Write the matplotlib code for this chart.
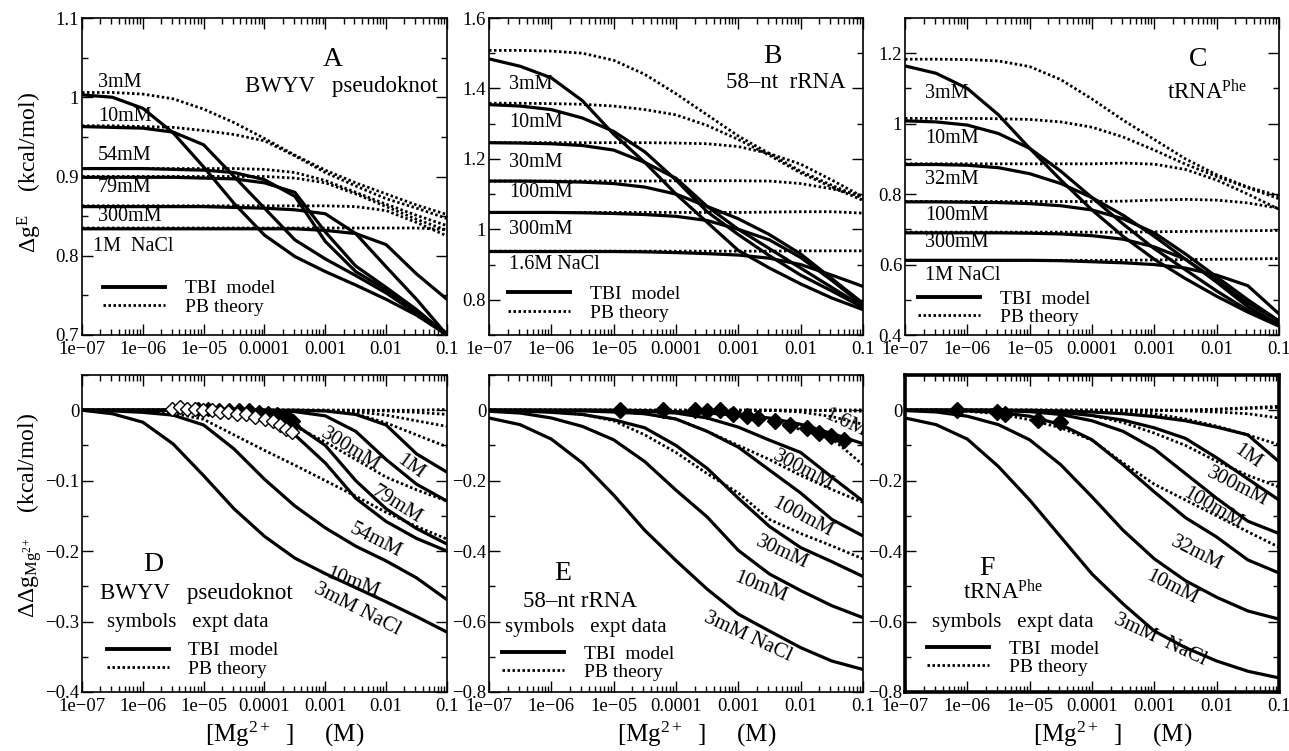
import numpy as np
import matplotlib
matplotlib.use('Agg')
import matplotlib.pyplot as plt
from matplotlib.lines import Line2D
from matplotlib.ticker import MultipleLocator, AutoMinorLocator, FuncFormatter, NullFormatter, LogLocator

plt.rcParams['font.family'] = 'Liberation Serif'
plt.rcParams['mathtext.fontset'] = 'custom'
plt.rcParams['mathtext.rm'] = 'Liberation Serif'
plt.rcParams['mathtext.it'] = 'Liberation Serif:italic'
plt.rcParams['mathtext.bf'] = 'Liberation Serif:bold'

# Mg2+ concentration grid (M), half-decade steps
mg = [1e-7, 3.16e-7, 1e-6, 3.16e-6, 1e-5, 3.16e-5, 1e-4, 3.16e-4, 1e-3, 3.16e-3, 1e-2, 3.16e-2, 1e-1]
xtick_vals = [1e-7, 1e-6, 1e-5, 1e-4, 1e-3, 1e-2, 1e-1]
xtick_labels = ['1e\u221207', '1e\u221206', '1e\u221205', '0.0001', '0.001', '0.01', '0.1']

# ---- A: BWYV pseudoknot, electrostatic free energy ----
a_salts = ['3mM', '10mM', '54mM', '79mM', '300mM', '1M  NaCl']
a_tbi = [
    [1.003, 1.0, 0.986, 0.955, 0.912, 0.866, 0.826, 0.799, 0.78, 0.763, 0.745, 0.725, 0.70],
    [0.963, 0.962, 0.961, 0.956, 0.94, 0.9, 0.86, 0.82, 0.796, 0.775, 0.753, 0.727, 0.702],
    [0.91, 0.91, 0.91, 0.909, 0.908, 0.905, 0.896, 0.875, 0.818, 0.78, 0.757, 0.73, 0.70],
    [0.899, 0.899, 0.899, 0.899, 0.898, 0.897, 0.892, 0.88, 0.83, 0.787, 0.76, 0.732, 0.70],
    [0.862, 0.862, 0.862, 0.862, 0.862, 0.861, 0.86, 0.858, 0.853, 0.828, 0.786, 0.745, 0.70],
    [0.834, 0.834, 0.834, 0.834, 0.834, 0.834, 0.834, 0.834, 0.832, 0.828, 0.814, 0.777, 0.745],
]
a_pb = [
    [1.006, 1.006, 1.004, 0.998, 0.985, 0.968, 0.948, 0.927, 0.908, 0.892, 0.878, 0.864, 0.852],
    [0.964, 0.964, 0.963, 0.962, 0.958, 0.953, 0.945, 0.926, 0.905, 0.888, 0.872, 0.86, 0.847],
    [0.91, 0.91, 0.91, 0.91, 0.91, 0.91, 0.909, 0.905, 0.895, 0.88, 0.865, 0.851, 0.838],
    [0.9, 0.9, 0.9, 0.9, 0.9, 0.9, 0.9, 0.898, 0.892, 0.878, 0.862, 0.846, 0.832],
    [0.863, 0.863, 0.863, 0.863, 0.863, 0.863, 0.863, 0.863, 0.863, 0.862, 0.857, 0.842, 0.825],
    [0.835, 0.835, 0.835, 0.835, 0.835, 0.835, 0.835, 0.835, 0.835, 0.835, 0.835, 0.835, 0.833],
]

# ---- B: 58-nt rRNA ----
b_salts = ['3mM', '10mM', '30mM', '100mM', '300mM', '1.6M NaCl']
b_tbi = [
    [1.484, 1.463, 1.43, 1.365, 1.27, 1.19, 1.1, 1.02, 0.94, 0.89, 0.845, 0.805, 0.772],
    [1.354, 1.35, 1.34, 1.316, 1.278, 1.22, 1.14, 1.05, 0.985, 0.925, 0.87, 0.825, 0.778],
    [1.246, 1.245, 1.243, 1.238, 1.225, 1.19, 1.145, 1.065, 1.0, 0.945, 0.89, 0.835, 0.78],
    [1.137, 1.137, 1.136, 1.134, 1.13, 1.12, 1.1, 1.065, 1.03, 0.985, 0.93, 0.86, 0.79],
    [1.048, 1.048, 1.048, 1.047, 1.045, 1.042, 1.037, 1.025, 1.0, 0.97, 0.92, 0.855, 0.785],
    [0.937, 0.937, 0.937, 0.937, 0.937, 0.936, 0.934, 0.931, 0.927, 0.918, 0.9, 0.87, 0.838],
]
b_pb = [
    [1.508, 1.508, 1.506, 1.5, 1.48, 1.44, 1.385, 1.325, 1.265, 1.215, 1.165, 1.125, 1.088],
    [1.358, 1.358, 1.357, 1.355, 1.35, 1.34, 1.325, 1.295, 1.255, 1.21, 1.16, 1.12, 1.082],
    [1.246, 1.246, 1.246, 1.246, 1.246, 1.246, 1.245, 1.243, 1.235, 1.215, 1.185, 1.14, 1.092],
    [1.137, 1.137, 1.137, 1.137, 1.137, 1.137, 1.138, 1.138, 1.138, 1.137, 1.13, 1.115, 1.095],
    [1.048, 1.048, 1.048, 1.048, 1.048, 1.048, 1.048, 1.048, 1.048, 1.049, 1.05, 1.05, 1.046],
    [0.938, 0.938, 0.938, 0.938, 0.938, 0.938, 0.938, 0.938, 0.938, 0.938, 0.939, 0.939, 0.939],
]

# ---- C: tRNA-Phe ----
c_salts = ['3mM', '10mM', '32mM', '100mM', '300mM', '1M NaCl']
c_tbi = [
    [1.164, 1.143, 1.10, 1.025, 0.93, 0.84, 0.755, 0.68, 0.615, 0.56, 0.51, 0.465, 0.425],
    [1.008, 1.005, 0.996, 0.972, 0.93, 0.865, 0.79, 0.715, 0.645, 0.585, 0.525, 0.47, 0.43],
    [0.884, 0.884, 0.882, 0.875, 0.858, 0.83, 0.79, 0.74, 0.68, 0.615, 0.55, 0.48, 0.43],
    [0.778, 0.778, 0.777, 0.776, 0.773, 0.767, 0.755, 0.73, 0.69, 0.63, 0.565, 0.5, 0.44],
    [0.69, 0.69, 0.69, 0.69, 0.689, 0.687, 0.682, 0.672, 0.65, 0.615, 0.555, 0.49, 0.44],
    [0.612, 0.612, 0.612, 0.612, 0.612, 0.611, 0.608, 0.605, 0.6, 0.59, 0.57, 0.54, 0.46],
]
c_pb = [
    [1.183, 1.183, 1.182, 1.178, 1.162, 1.125, 1.07, 1.01, 0.955, 0.9, 0.855, 0.82, 0.795],
    [1.015, 1.015, 1.015, 1.014, 1.012, 1.005, 0.99, 0.962, 0.925, 0.885, 0.85, 0.818, 0.787],
    [0.886, 0.886, 0.886, 0.886, 0.886, 0.886, 0.886, 0.888, 0.885, 0.87, 0.84, 0.8, 0.757],
    [0.779, 0.779, 0.779, 0.779, 0.779, 0.779, 0.779, 0.78, 0.783, 0.785, 0.783, 0.775, 0.76],
    [0.692, 0.692, 0.692, 0.692, 0.692, 0.692, 0.692, 0.692, 0.693, 0.694, 0.695, 0.696, 0.697],
    [0.612, 0.612, 0.612, 0.612, 0.612, 0.612, 0.612, 0.612, 0.613, 0.614, 0.615, 0.616, 0.617],
]

# ---- D: BWYV pseudoknot, Mg2+ stability ----
d_tbi = [
    [0, -0.005, -0.017, -0.048, -0.093, -0.14, -0.179, -0.21, -0.232, -0.252, -0.272, -0.293, -0.315],
    [0, -0.001, -0.003, -0.007, -0.021, -0.055, -0.098, -0.136, -0.167, -0.193, -0.214, -0.238, -0.269],
    [0, 0, 0, 0, -0.001, -0.004, -0.012, -0.035, -0.075, -0.125, -0.158, -0.182, -0.2],
    [0, 0, 0, 0, 0, -0.002, -0.006, -0.02, -0.05, -0.1, -0.14, -0.168, -0.19],
    [0, 0, 0, 0, 0, 0, 0, -0.002, -0.008, -0.03, -0.07, -0.105, -0.129],
    [0, 0, 0, 0, 0, 0, 0, 0, -0.001, -0.006, -0.021, -0.062, -0.088],
]
d_pb = [
    [0, 0, -0.001, -0.004, -0.013, -0.035, -0.057, -0.078, -0.1, -0.122, -0.145, -0.165, -0.183],
    [0, 0, 0, 0, -0.001, -0.004, -0.01, -0.023, -0.045, -0.07, -0.095, -0.113, -0.129],
    [0, 0, 0, 0, 0, 0, 0, 0, -0.001, -0.005, -0.018, -0.035, -0.052],
    [0, 0, 0, 0, 0, 0, 0, 0, 0, -0.002, -0.007, -0.015, -0.023],
    [0, 0, 0, 0, 0, 0, 0, 0, 0, 0, -0.001, -0.003, -0.006],
    [0, 0, 0, 0, 0, 0, 0, 0, 0, 0, 0, 0, 0.001],
]
d_expt_mg = [3.0e-6, 4.1e-6, 5.3e-6, 7.2e-6, 9.9e-6, 1.36e-5, 1.86e-5, 2.54e-5,
             3.49e-5, 4.97e-5, 7.0e-5, 1.02e-4, 1.38e-4, 1.80e-4, 2.25e-4, 2.80e-4]
d_expt = [0.002, 0.004, 0.002, 0.002, 0.001, 0.001, -0.002, -0.003,
          -0.006, -0.006, -0.009, -0.012, -0.015, -0.021, -0.026, -0.031]
d_expt2_mg = [8e-6, 1.2e-5, 1.8e-5, 2.6e-5, 3.8e-5, 5.5e-5, 8e-5, 1.15e-4, 1.6e-4, 2.1e-4, 2.6e-4, 2.9e-4, 2.9e-4]
d_expt2 = [0.002, 0.002, 0.001, 0.001, 0.0, 0.0, -0.002, -0.004, -0.006, -0.008, -0.012, -0.015, -0.022]

# ---- E: 58-nt rRNA ----
e_tbi = [
    [-0.022, -0.041, -0.082, -0.15, -0.241, -0.341, -0.427, -0.508, -0.579, -0.627, -0.674, -0.712, -0.736],
    [-0.003, -0.008, -0.022, -0.046, -0.084, -0.146, -0.227, -0.303, -0.398, -0.465, -0.512, -0.555, -0.589],
    [0, -0.002, -0.006, -0.012, -0.027, -0.05, -0.1, -0.165, -0.25, -0.33, -0.39, -0.43, -0.472],
    [0, 0, -0.001, -0.002, -0.005, -0.01, -0.025, -0.06, -0.105, -0.17, -0.235, -0.31, -0.357],
    [0, 0, 0, 0, -0.001, -0.003, -0.008, -0.022, -0.048, -0.085, -0.12, -0.19, -0.258],
    [0, 0, 0, 0, 0, -0.001, -0.004, -0.008, -0.014, -0.022, -0.04, -0.066, -0.095],
]
e_pb = [
    [0, -0.001, -0.004, -0.012, -0.03, -0.07, -0.12, -0.18, -0.235, -0.31, -0.35, -0.385, -0.422],
    [0, 0, 0, -0.001, -0.003, -0.01, -0.025, -0.06, -0.1, -0.14, -0.185, -0.225, -0.262],
    [0, 0, 0, 0, 0, 0, -0.001, -0.003, -0.008, -0.028, -0.055, -0.08, -0.155],
    [0, 0, 0, 0, 0, 0, 0, 0, 0, 0, -0.005, -0.018, -0.04],
    [0, 0, 0, 0, 0, 0, 0, 0, 0, 0, 0, -0.001, -0.003],
    [0, 0, 0, 0, 0, 0, 0, 0, 0, 0, 0, 0, 0.001],
]
e_expt_mg = [1.26e-5, 6.12e-5, 2.02e-4, 3.10e-4, 5.08e-4, 8.32e-4, 1.36e-3,
             2.09e-3, 3.89e-3, 6.76e-3, 1.26e-2, 1.95e-2, 3.02e-2, 4.90e-2]
e_expt = [0.0, 0.0, 0.0, -0.001, 0.0, -0.01, -0.017, -0.022, -0.031, -0.041, -0.05, -0.064, -0.074, -0.084]

# ---- F: tRNA-Phe ----
f_tbi = [
    [-0.022, -0.041, -0.082, -0.16, -0.255, -0.36, -0.465, -0.55, -0.627, -0.674, -0.712, -0.741, -0.76],
    [-0.001, -0.005, -0.017, -0.041, -0.084, -0.155, -0.246, -0.341, -0.422, -0.484, -0.531, -0.57, -0.593],
    [0, 0, -0.002, -0.006, -0.017, -0.041, -0.084, -0.155, -0.232, -0.305, -0.36, -0.425, -0.462],
    [0, 0, 0, -0.001, -0.004, -0.012, -0.03, -0.06, -0.11, -0.18, -0.25, -0.315, -0.35],
    [0, 0, 0, 0, -0.002, -0.006, -0.015, -0.028, -0.05, -0.08, -0.135, -0.195, -0.255],
    [0, 0, 0, 0, 0, -0.002, -0.005, -0.01, -0.018, -0.03, -0.048, -0.07, -0.146],
]
f_pb = [
    [0, -0.001, -0.003, -0.01, -0.027, -0.05, -0.085, -0.15, -0.21, -0.255, -0.3, -0.345, -0.389],
    [0, 0, 0, 0, -0.001, -0.004, -0.015, -0.035, -0.065, -0.1, -0.145, -0.185, -0.218],
    [0, 0, 0, 0, 0, 0, 0, -0.003, -0.01, -0.025, -0.045, -0.07, -0.098],
    [0, 0, 0, 0, 0, 0, 0, 0, 0, -0.002, -0.005, -0.01, -0.022],
    [0, 0, 0, 0, 0, 0, 0, 0, 0, 0, 0.002, 0.005, 0.008],
    [0, 0, 0, 0, 0, 0, 0, 0, 0, 0, 0.003, 0.007, 0.011],
]
f_expt_mg = [6.9e-7, 2.95e-6, 3.98e-6, 1.38e-5, 3.02e-5]
f_expt = [0.0, -0.006, -0.01, -0.027, -0.034]

W, H = 1289, 751
fig = plt.figure(figsize=(W / 100, H / 100), dpi=100)
FS = 13.5     # tick labels, salt labels, legend
FT = 16.5     # molecule names
FL = 20       # panel letters
FR = 15       # slanted salt labels
DOT = (0, (0.9, 0.9))


def make_axes(left, top, right, bottom):
    return fig.add_axes([left / W, 1 - bottom / H, (right - left) / W, (bottom - top) / H])


def yfmt(v, pos):
    s = '%g' % round(v, 6)
    if s == '-0':
        s = '0'
    return s.replace('-', '\u2212')


def style(ax, ylim, step, frame=1.2):
    ax.set_xscale('log')
    ax.set_xlim(1e-7, 0.1)
    ax.set_ylim(*ylim)
    ax.set_xticks(xtick_vals)
    ax.set_xticklabels(xtick_labels)
    ax.xaxis.set_minor_locator(LogLocator(base=10, subs=np.arange(2, 10), numticks=30))
    ax.xaxis.set_minor_formatter(NullFormatter())
    ax.yaxis.set_major_locator(MultipleLocator(step))
    ax.yaxis.set_minor_locator(AutoMinorLocator(2))
    ax.yaxis.set_major_formatter(FuncFormatter(yfmt))
    ax.tick_params(which='both', direction='in', top=True, right=True, labelsize=FS, width=1)
    ax.tick_params(which='major', length=8, pad=4)
    ax.tick_params(axis='y', which='major', pad=2)
    ax.tick_params(which='minor', length=4)
    for s in ax.spines.values():
        s.set_linewidth(frame)


def curves(ax, tbi, pb):
    for y in pb:
        ax.plot(mg, y, color='black', lw=2.0, ls=DOT)
    for y in tbi:
        ax.plot(mg, y, color='black', lw=2.3)


def legend(ax, x, y):
    handles = [Line2D([], [], color='black', lw=2.8),
               Line2D([], [], color='black', lw=2.0, ls=DOT)]
    ax.legend(handles, ['TBI  model', 'PB theory'], loc='center left', bbox_to_anchor=(x, y),
              frameon=False, handlelength=3.2, handletextpad=1.0, labelspacing=0.05,
              borderpad=0, borderaxespad=0, fontsize=14)


def side_labels(ax, names, x, ys):
    for name, y in zip(names, ys):
        ax.text(x, y, name, transform=ax.transAxes, ha='left', va='center', fontsize=14.5)


def slanted(ax, items):
    for name, x, y, rot in items:
        ax.text(x, y, name, transform=ax.transAxes, ha='center', va='center', fontsize=FR,
                rotation=rot, rotation_mode='anchor', clip_on=True)


def note(ax, x, y, s, size, ha='center'):
    ax.text(x, y, s, transform=ax.transAxes, ha=ha, va='center', fontsize=size)


# ---------------- top row ----------------
axA = make_axes(82, 18, 447, 335)
style(axA, (0.7, 1.1), 0.1)
curves(axA, a_tbi, a_pb)
side_labels(axA, a_salts[:5], 0.044, [0.798, 0.688, 0.565, 0.464, 0.375])
note(axA, 0.03, 0.278, a_salts[5], 14.5, ha='left')
note(axA, 0.688, 0.868, 'A', FL)
note(axA, 0.447, 0.785, 'BWYV   pseudoknot', FT, ha='left')
legend(axA, 0.058, 0.117)

axB = make_axes(489, 18, 863, 335)
style(axB, (0.7, 1.6), 0.2)
curves(axB, b_tbi, b_pb)
side_labels(axB, b_salts, 0.053, [0.789, 0.669, 0.543, 0.448, 0.334, 0.221])
note(axB, 0.759, 0.877, 'B', FL)
note(axB, 0.794, 0.795, '58\u2013nt  rRNA', FT)
legend(axB, 0.051, 0.099)

axC = make_axes(905, 18, 1279, 335)
style(axC, (0.4, 1.3), 0.2)
curves(axC, c_tbi, c_pb)
side_labels(axC, c_salts, 0.053, [0.763, 0.621, 0.492, 0.377, 0.291, 0.189])
note(axC, 0.783, 0.868, 'C', FL)
note(axC, 0.70, 0.767, 'tRNA$^{\\mathrm{Phe}}$', FT, ha='left')
legend(axC, 0.035, 0.085)

# ---------------- bottom row ----------------
axD = make_axes(82, 375, 447, 692)
style(axD, (-0.4, 0.05), 0.1)
curves(axD, d_tbi, d_pb)
axD.plot(d_expt2_mg, d_expt2, ls='none', marker='D', ms=7.5, mfc='black', mec='black')
axD.plot(d_expt_mg, d_expt, ls='none', marker='D', ms=7.5, mfc='white', mec='black', mew=1.0)
slanted(axD, [('300mM', 0.734, 0.763, -32), ('1M', 0.899, 0.71, -36), ('79mM', 0.863, 0.59, -32),
              ('54mM', 0.803, 0.479, -27), ('10mM', 0.742, 0.344, -21), ('3mM NaCl', 0.753, 0.259, -27)])
note(axD, 0.195, 0.401, 'D', FL)
note(axD, 0.049, 0.312, 'BWYV   pseudoknot', FT, ha='left')
note(axD, 0.068, 0.218, 'symbols   expt data', 15, ha='left')
legend(axD, 0.068, 0.101)

axE = make_axes(489, 375, 863, 692)
style(axE, (-0.8, 0.1), 0.2)
curves(axE, e_tbi, e_pb)
axE.plot(e_expt_mg, e_expt, ls='none', marker='D', ms=8.5, mfc='black', mec='black')
slanted(axE, [('1.6M', 0.952, 0.849, -25), ('300mM', 0.84, 0.70, -28), ('100mM', 0.837, 0.552, -28),
              ('30mM', 0.783, 0.438, -25), ('10mM', 0.725, 0.331, -22), ('3mM NaCl', 0.693, 0.174, -25)])
note(axE, 0.198, 0.375, 'E', FL)
note(axE, 0.243, 0.284, '58\u2013nt rRNA', FT)
note(axE, 0.043, 0.202, 'symbols   expt data', 15, ha='left')
legend(axE, 0.035, 0.091)

axF = make_axes(905, 375, 1279, 692)
style(axF, (-0.8, 0.1), 0.2, frame=2.6)
curves(axF, f_tbi, f_pb)
axF.plot(f_expt_mg, f_expt, ls='none', marker='D', ms=8.5, mfc='black', mec='black')
slanted(axF, [('1M', 0.917, 0.741, -35), ('300mM', 0.89, 0.647, -27), ('100mM', 0.824, 0.58, -30),
              ('32mM', 0.781, 0.438, -27), ('10mM', 0.714, 0.328, -27), ('3mM  NaCl', 0.682, 0.164, -25)])
note(axF, 0.219, 0.391, 'F', FL)
note(axF, 0.262, 0.315, 'tRNA$^{\\mathrm{Phe}}$', FT)
note(axF, 0.072, 0.218, 'symbols   expt data', 15, ha='left')
legend(axF, 0.059, 0.107)

# axis titles
for ax in (axD, axE, axF):
    ax.text(0.555, -0.135, '[Mg$^{2+}$  ]     (M)', transform=ax.transAxes,
            ha='center', va='center', fontsize=18)
fig.text(30 / W, 1 - 173 / H, '\u0394g$^{\\mathrm{E}}$    (kcal/mol)', rotation=90,
         ha='center', va='center', fontsize=17)
fig.text(30 / W, 1 - 515 / H, '\u0394\u0394g$_{\\mathrm{Mg}^{2+}}$    (kcal/mol)', rotation=90,
         ha='center', va='center', fontsize=17)

fig.savefig('out.png', dpi=100)
